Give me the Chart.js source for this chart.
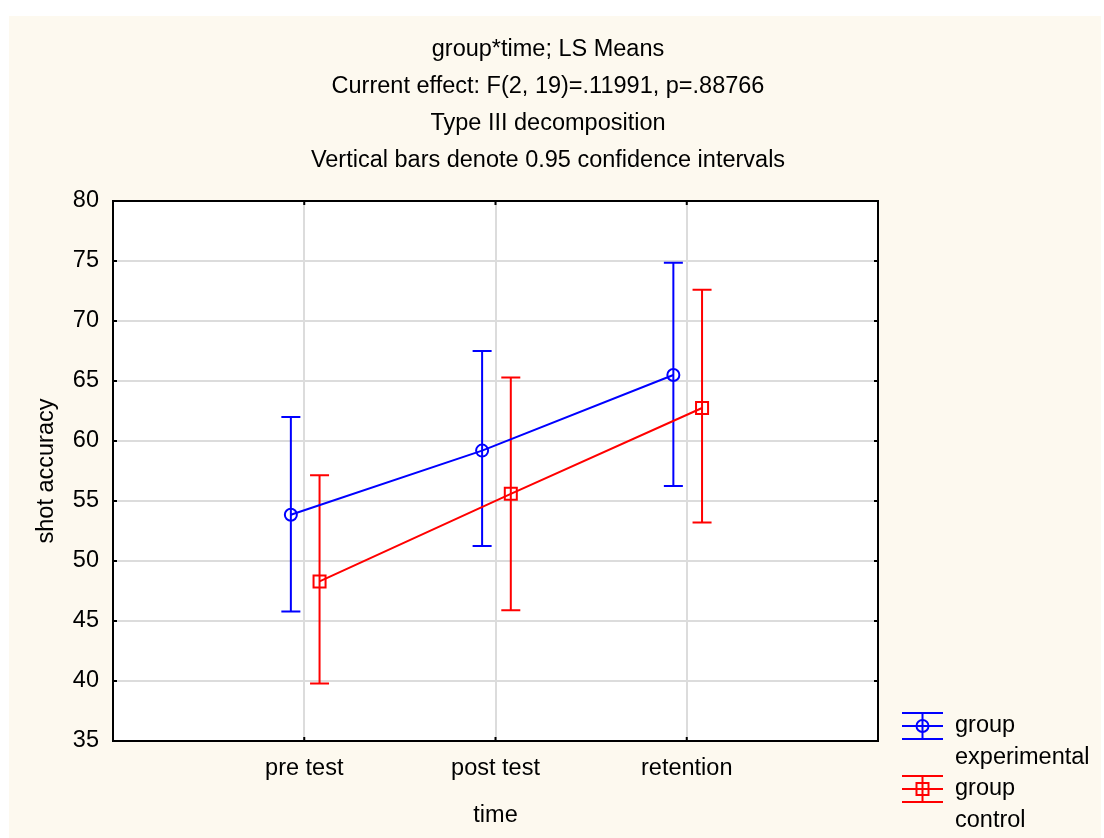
<!DOCTYPE html>
<html>
    <head>
        <meta charset="utf-8">
        <title>group*time; LS Means</title>
        <script src="https://cdn.jsdelivr.net/npm/chart.js@4.4.1/dist/chart.umd.min.js"></script>
        <style>
            body { margin: 0; background: #ffffff; }
            #panel { position: absolute; left: 9px; top: 16px; width: 1092px; height: 822px; background: #fdf9ef; }
            canvas { display: block; }
        </style>
    </head>

    <body>
        <div id="panel">
            <canvas id="lineChart" width="1092" height="822"></canvas>
        </div>

        <script>
            // values
            const categories = ['pre test', 'post test', 'retention'];
            const titleLines = [
                'group*time; LS Means',
                'Current effect: F(2, 19)=.11991, p=.88766',
                'Type III decomposition',
                'Vertical bars denote 0.95 confidence intervals'
            ];
            const yTicks = [35, 40, 45, 50, 55, 60, 65, 70, 75, 80];

            const expMean = [53.85, 59.2, 65.5];
            const expLow  = [45.8, 51.25, 56.25];
            const expHigh = [62.0, 67.5, 74.85];

            const ctrlMean = [48.3, 55.6, 62.75];
            const ctrlLow  = [39.8, 45.9, 53.2];
            const ctrlHigh = [57.15, 65.3, 72.6];

            const FONT = '"Liberation Sans", Arial, sans-serif';
            const FSIZE = 23.5;

            // x positions: category i sits at i+1, groups nudged apart a little
            function points(means, shift){
                let pts = [];
                for(let i=0; i < means.length; i++){
                    pts.push({x: i + 1 + shift, y: means[i]});
                }
                return pts;
            }

            // cream page + white plot area + black frame with small inner ticks
            const framePlugin = {
                id: 'frame',
                beforeDraw(chart){
                    const {ctx, chartArea: a} = chart;
                    ctx.save();
                    ctx.fillStyle = '#fdf9ef';
                    ctx.fillRect(0, 0, chart.width, chart.height);
                    ctx.fillStyle = '#ffffff';
                    ctx.fillRect(a.left, a.top, a.right - a.left, a.bottom - a.top);
                    ctx.restore();
                },
                afterDraw(chart){
                    const {ctx, chartArea: a, scales} = chart;
                    ctx.save();
                    ctx.strokeStyle = '#000000';
                    ctx.lineWidth = 2;
                    ctx.beginPath();
                    yTicks.forEach(v => {
                        let py = scales.y.getPixelForValue(v);
                        ctx.moveTo(a.left, py); ctx.lineTo(a.left + 4, py);
                        ctx.moveTo(a.right, py); ctx.lineTo(a.right - 4, py);
                    });
                    categories.forEach((c, i) => {
                        let px = scales.x.getPixelForValue(i + 1);
                        ctx.moveTo(px, a.bottom); ctx.lineTo(px, a.bottom - 4);
                        ctx.moveTo(px, a.top); ctx.lineTo(px, a.top + 4);
                    });
                    ctx.stroke();
                    ctx.strokeRect(a.left, a.top, a.right - a.left, a.bottom - a.top);
                    ctx.restore();
                }
            };

            // vertical confidence bars, from the low/high arrays of each dataset
            const errorBarPlugin = {
                id: 'errorBars',
                beforeDatasetsDraw(chart){
                    const {ctx, scales} = chart;
                    ctx.save();
                    ctx.lineWidth = 2;
                    chart.data.datasets.forEach(ds => {
                        ctx.strokeStyle = ds.borderColor;
                        ctx.beginPath();
                        ds.data.forEach((p, i) => {
                            let px = scales.x.getPixelForValue(p.x);
                            let top = scales.y.getPixelForValue(ds.high[i]);
                            let bot = scales.y.getPixelForValue(ds.low[i]);
                            ctx.moveTo(px, top); ctx.lineTo(px, bot);
                            ctx.moveTo(px - 9.5, top); ctx.lineTo(px + 9.5, top);
                            ctx.moveTo(px - 9.5, bot); ctx.lineTo(px + 9.5, bot);
                        });
                        ctx.stroke();
                    });
                    ctx.restore();
                }
            };

            // legend on the right with error-bar glyphs and two-line labels
            const legendPlugin = {
                id: 'sideLegend',
                afterDraw(chart){
                    const {ctx, chartArea: a} = chart;
                    ctx.save();
                    ctx.font = FSIZE + 'px ' + FONT;
                    ctx.textBaseline = 'middle';
                    ctx.textAlign = 'left';
                    chart.data.datasets.forEach((ds, k) => {
                        let cy = a.bottom - 15 + k * 63;
                        let x0 = a.right + 24, x1 = x0 + 41, cx = (x0 + x1) / 2;
                        ctx.strokeStyle = ds.borderColor;
                        ctx.lineWidth = 2;
                        ctx.beginPath();
                        [-13, 0, 13].forEach(d => { ctx.moveTo(x0, cy + d); ctx.lineTo(x1, cy + d); });
                        ctx.moveTo(cx, cy - 13); ctx.lineTo(cx, cy + 13);
                        ctx.stroke();
                        ctx.beginPath();
                        if(ds.pointStyle === 'circle'){
                            ctx.arc(cx, cy, 6, 0, Math.PI * 2);
                        } else {
                            ctx.rect(cx - 6, cy - 6, 12, 12);
                        }
                        ctx.stroke();
                        ctx.fillStyle = '#000000';
                        ds.label.forEach((line, j) => {
                            ctx.fillText(line, a.right + 77, cy + j * 32);
                        });
                    });
                    ctx.restore();
                }
            };

            const ctx = document.getElementById('lineChart');
            new Chart(ctx, {
                type: 'line',
                data: {
                    datasets: [{
                        label: ['group', 'experimental'],
                        data: points(expMean, -0.07),
                        low: expLow,
                        high: expHigh,
                        borderColor: '#0000ff',
                        borderWidth: 2,
                        pointStyle: 'circle',
                        pointRadius: 6,
                        pointBorderWidth: 2,
                        pointBackgroundColor: 'rgba(0,0,0,0)',
                        tension: 0
                    }, {
                        label: ['group', 'control'],
                        data: points(ctrlMean, 0.08),
                        low: ctrlLow,
                        high: ctrlHigh,
                        borderColor: '#ff0000',
                        borderWidth: 2,
                        pointStyle: 'rect',
                        pointRadius: 8.5,
                        pointBorderWidth: 2,
                        pointBackgroundColor: 'rgba(0,0,0,0)',
                        tension: 0
                    }]
                },
                options: {
                    responsive: false,
                    animation: false,
                    layout: { padding: { left: 0, right: 14, top: 0, bottom: 0 } },
                    plugins: {
                        legend: { display: false },
                        tooltip: { enabled: false },
                        title: {
                            display: true,
                            text: titleLines,
                            color: '#000000',
                            font: { family: FONT, size: FSIZE, weight: 'normal', lineHeight: 37 / FSIZE },
                            padding: { top: 15, bottom: 22 }
                        }
                    },
                    scales: {
                        x: {
                            type: 'linear',
                            min: 0,
                            max: 4,
                            afterBuildTicks: s => { s.ticks = [0, 1, 2, 3, 4].map(v => ({value: v})); },
                            afterFit: s => { s.height = 97; },
                            grid: { color: '#dcdcdc', lineWidth: 2, drawTicks: false },
                            border: { display: false },
                            ticks: {
                                color: '#000000',
                                font: { family: FONT, size: FSIZE },
                                padding: 13,
                                maxRotation: 0,
                                autoSkip: false,
                                callback: v => categories[v - 1] || ''
                            },
                            title: {
                                display: true,
                                text: 'time',
                                color: '#000000',
                                font: { family: FONT, size: FSIZE },
                                padding: { top: 0, bottom: 8 }
                            }
                        },
                        y: {
                            min: 35,
                            max: 80,
                            afterBuildTicks: s => { s.ticks = yTicks.map(v => ({value: v})); },
                            afterFit: s => { s.width = 104; },
                            grid: { color: '#dcdcdc', lineWidth: 2, drawTicks: false },
                            border: { display: false },
                            ticks: {
                                color: '#000000',
                                font: { family: FONT, size: FSIZE },
                                padding: 14
                            },
                            title: {
                                display: true,
                                text: 'shot accuracy',
                                color: '#000000',
                                font: { family: FONT, size: FSIZE },
                                padding: { top: 23, bottom: 0 }
                            }
                        },
                        // empty right-hand strip that leaves room for the legend
                        yRight: {
                            position: 'right',
                            display: true,
                            afterFit: s => { s.width = 209; },
                            grid: { display: false, drawTicks: false },
                            border: { display: false },
                            ticks: { display: false }
                        }
                    }
                },
                plugins: [framePlugin, errorBarPlugin, legendPlugin]
            });
        </script>
    </body>
</html>
